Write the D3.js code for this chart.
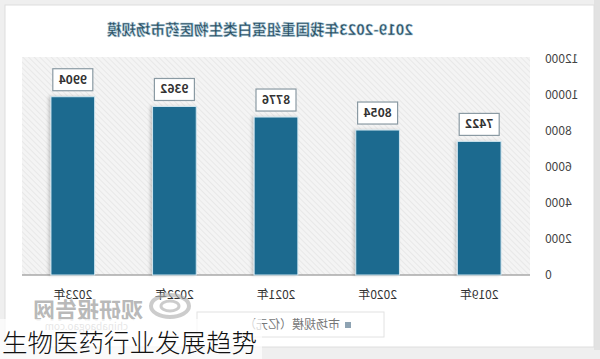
<!DOCTYPE html>
<html>
<head>
<meta charset="utf-8">
<script src="https://cdn.jsdelivr.net/npm/d3@7"></script>
<style>
  body { margin: 0; background: #f0f0f0; }
  svg { display: block; font-family: "Noto Sans CJK SC", "Noto Sans", sans-serif; }
</style>
</head>
<body>
<div id="chart"></div>
<script>
const years = ["2019年", "2020年", "2021年", "2022年", "2023年"];
const marketSize = [7422, 8054, 8776, 9362, 9904];
const yTicks = [0, 2000, 4000, 6000, 8000, 10000, 12000];
const title = "2019-2023年我国重组蛋白类生物医药市场规模";
const legendLabel = "市场规模（亿元）";
const caption = "生物医药行业发展趋势";

const BAR_COLOR = "#1b6a8f";
const width = 600, height = 359;

let svg = d3.select("#chart").append("svg")
  .attr("width", width)
  .attr("height", height);

let defs = svg.append("defs");
let pat = defs.append("pattern")
  .attr("id", "hatch")
  .attr("width", 4).attr("height", 4)
  .attr("patternUnits", "userSpaceOnUse")
  .attr("patternTransform", "rotate(45)");
pat.append("rect").attr("width", 4).attr("height", 4).attr("fill", "#f4f4f4");
pat.append("line").attr("x1", 0).attr("y1", 0).attr("x2", 0).attr("y2", 4)
  .attr("stroke", "#e4e4e4").attr("stroke-width", 1.5);

let shadow = defs.append("filter").attr("id", "shadow")
  .attr("x", "-20%").attr("y", "-5%").attr("width", "140%").attr("height", "110%");
shadow.append("feDropShadow").attr("dx", 2).attr("dy", 0).attr("stdDeviation", 1.5)
  .attr("flood-color", "#000").attr("flood-opacity", 0.18);

// outer card
svg.append("rect").attr("width", width).attr("height", height).attr("fill", "#efefef");
svg.append("rect").attr("x", 594).attr("y", 0).attr("width", 6).attr("height", 350).attr("fill", "#e2e2e2");
svg.append("rect")
  .attr("x", 5).attr("y", 5).attr("width", 589).attr("height", 342)
  .attr("fill", "#fff").attr("stroke", "#dedede");

// the source picture is mirrored left-right, so draw the chart inside a flipped group
let g = svg.append("g").attr("transform", `translate(${width},0) scale(-1,1)`);

let x = d3.scaleBand().domain(years).range([70, 578]).paddingInner(0.57).paddingOuter(0.285);
let y = d3.scaleLinear().domain([0, 12000]).range([275, 59]);

g.append("rect")
  .attr("x", 70).attr("y", 57).attr("width", 508).attr("height", 218)
  .attr("fill", "url(#hatch)");

g.append("text")
  .attr("x", 340).attr("y", 35)
  .attr("text-anchor", "middle")
  .attr("font-size", "14.5px").attr("font-weight", "bold")
  .attr("fill", "#2a4d60")
  .attr("stroke", "#a9c9d8").attr("stroke-width", 0.5)
  .text(title);

// y axis labels
g.append("g").selectAll("text")
  .data(yTicks).enter().append("text")
  .attr("x", 55).attr("y", d => y(d))
  .attr("dy", "0.35em")
  .attr("text-anchor", "end")
  .attr("font-size", "12px").attr("fill", "#444")
  .text(d => d);

// baseline
g.append("line")
  .attr("x1", 70).attr("x2", 578).attr("y1", y(0)).attr("y2", y(0))
  .attr("stroke", "#a8a8a8").attr("stroke-width", 1.5);

// bars
g.append("g").selectAll("rect")
  .data(marketSize).enter().append("rect")
  .attr("x", (d, i) => x(years[i]))
  .attr("y", d => y(d))
  .attr("width", x.bandwidth())
  .attr("height", d => y(0) - y(d))
  .attr("fill", BAR_COLOR)
  .attr("stroke", "#cfe5ef").attr("stroke-width", 1)
  .attr("filter", "url(#shadow)");

// value boxes
let lab = g.append("g").selectAll("g")
  .data(marketSize).enter().append("g")
  .attr("transform", (d, i) => `translate(${x(years[i]) + x.bandwidth() / 2},${y(d) - 6})`);
lab.append("rect")
  .attr("x", -20).attr("y", -22).attr("width", 40).attr("height", 22)
  .attr("fill", "#fff").attr("stroke", "#8a9aa3").attr("stroke-width", 1.2);
lab.append("text")
  .attr("y", -7).attr("text-anchor", "middle")
  .attr("font-size", "12px").attr("font-weight", "bold").attr("fill", "#333")
  .text(d => d);

// x labels
g.append("g").selectAll("text")
  .data(years).enter().append("text")
  .attr("x", d => x(d) + x.bandwidth() / 2)
  .attr("y", 299)
  .attr("text-anchor", "middle")
  .attr("font-size", "12px").attr("fill", "#333")
  .text(d => d);

// legend
g.append("rect")
  .attr("x", 216).attr("y", 312).attr("width", 187).attr("height", 25)
  .attr("fill", "#fff").attr("stroke", "#e2e2e2");
g.append("rect")
  .attr("x", 249).attr("y", 322).attr("width", 6).attr("height", 6)
  .attr("fill", "#8ea3b3");
g.append("text")
  .attr("x", 260).attr("y", 329)
  .attr("font-size", "12px").attr("fill", "#777")
  .text(legendLabel);

// watermark
g.append("text")
  .attr("x", 457).attr("y", 318)
  .attr("font-size", "22px").attr("font-weight", "bold")
  .attr("fill", "#9a9a9a").attr("fill-opacity", 0.7)
  .text("观研报告网");
g.append("text")
  .attr("x", 472).attr("y", 330)
  .attr("font-size", "10px").attr("fill", "#aaa")
  .text("chinabaogao.com");
let logo = g.append("g").attr("transform", "translate(430,306)")
  .attr("fill", "none").attr("stroke", "#aaa").attr("stroke-opacity", 0.6);
logo.append("ellipse").attr("rx", 19).attr("ry", 11).attr("stroke-width", 4);
logo.append("ellipse").attr("rx", 9).attr("ry", 5).attr("stroke-width", 3);

// caption overlay (not mirrored)
svg.append("rect")
  .attr("x", 0).attr("y", 319).attr("width", 262).attr("height", 40)
  .attr("fill", "#fff").attr("fill-opacity", 0.7);
svg.append("text")
  .attr("x", 2).attr("y", 352)
  .attr("font-size", "25.5px").attr("font-weight", 300)
  .attr("fill", "#111")
  .text(caption);
</script>
</body>
</html>
